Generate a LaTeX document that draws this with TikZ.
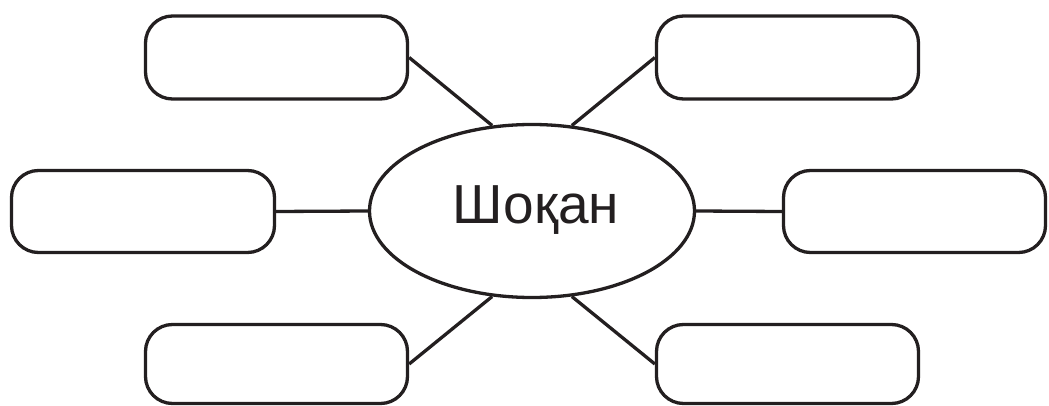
\documentclass[tikz,border=0pt]{standalone}
\usepackage{fontspec}
\setmainfont{Liberation Sans}
\usetikzlibrary{shapes.geometric}
\definecolor{ink}{RGB}{35,31,32}
\begin{document}
\begin{tikzpicture}[x=1pt,y=-1pt,
  box/.style={draw=ink, line width=3.3pt, rectangle, rounded corners=27pt,
    minimum width=262pt, minimum height=83pt, inner sep=0pt},
  hub/.style={draw=ink, line width=3.3pt, ellipse, minimum width=325pt,
    minimum height=173pt, inner sep=0pt},
  link/.style={draw=ink, line width=3.3pt}]
\useasboundingbox (0,0) rectangle (1049,406);
\node[hub] (e) at (532,211) {};
\node[font=\fontsize{55pt}{62pt}\selectfont, text=ink, inner sep=0pt] (t) at (536,210) {Шоқан};
\node[box] (tl) at (276.5,57.5) {};
\node[box] (tr) at (787.5,57.5) {};
\node[box, minimum width=263pt, minimum height=82pt] (ml) at (143,211.5) {};
\node[box, minimum height=82pt] (mr) at (914.5,211.5) {};
\node[box, minimum height=79pt] (bl) at (276.5,364) {};
\node[box, minimum height=79pt] (br) at (787.5,364) {};
\draw[link] (tl.east) -- (e.115);
\draw[link] (tr.west) -- (e.65);
\draw[link] (ml.east) -- (e.west);
\draw[link] (mr.west) -- (e.east);
\draw[link] (bl.east) -- (e.-115);
\draw[link] (br.west) -- (e.-65);
\end{tikzpicture}
\end{document}
